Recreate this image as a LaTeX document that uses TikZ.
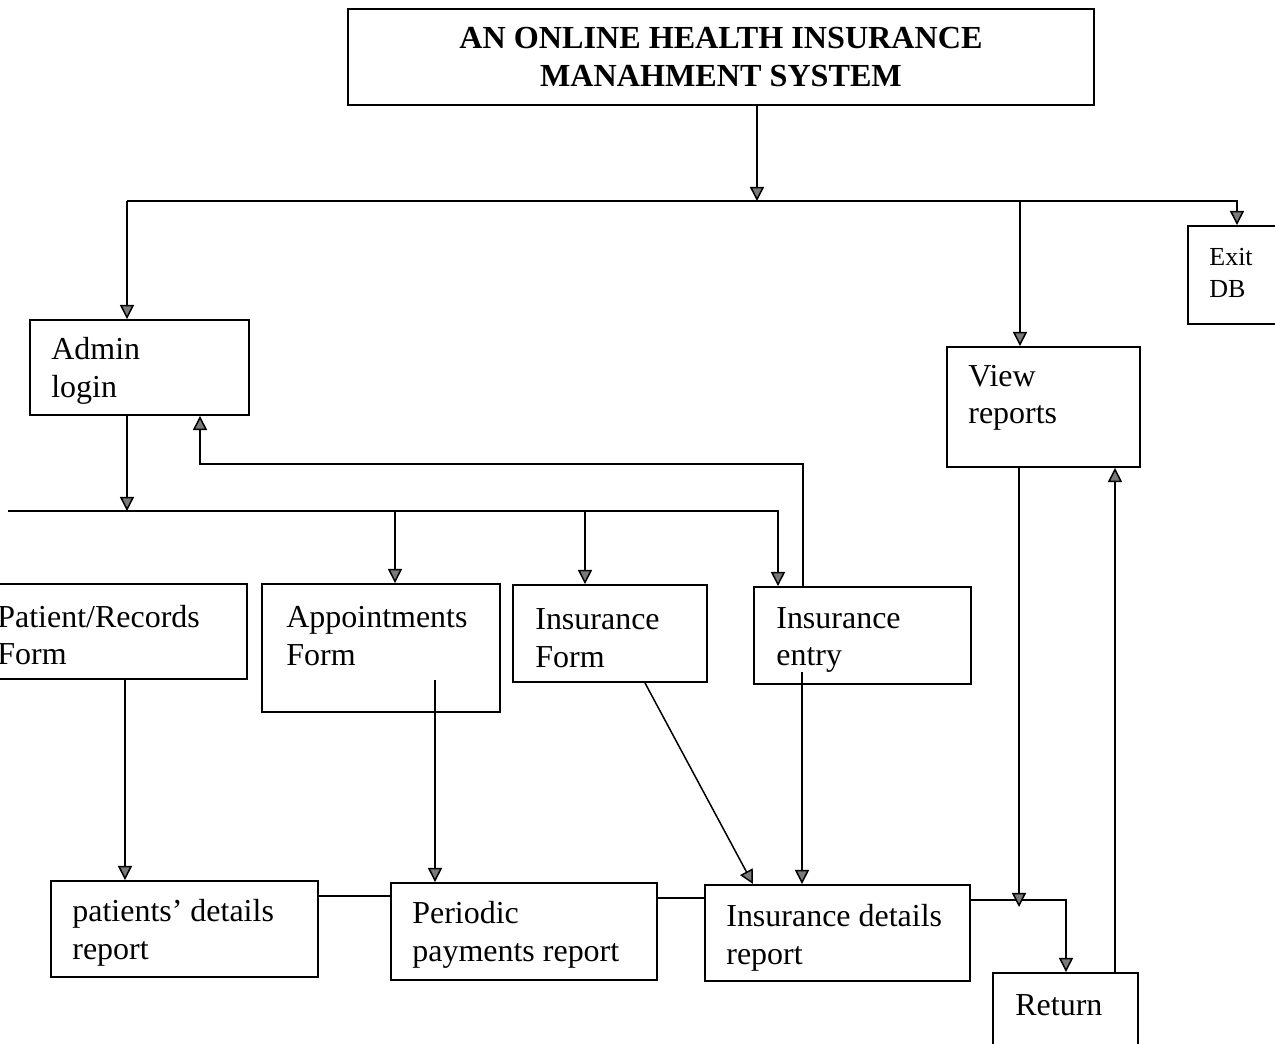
\documentclass[tikz,border=0pt]{standalone}
\usepackage{fontspec}
\setmainfont{Liberation Serif}
\usetikzlibrary{arrows.meta,fit}
\newcommand\mkbox[5]{\path (#2,#3) coordinate (#1-nw) (#4,#5) coordinate (#1-se);
  \node[box, fit=(#1-nw)(#1-se)] (#1) {};}
\begin{document}
\begin{tikzpicture}[x=0.02cm,y=-0.02cm,
  box/.style={draw, line width=1.1pt, inner sep=0pt},
  lbl/.style={anchor=west, align=left, inner sep=0pt, font=\fontsize{18.2}{21.3}\selectfont},
  conn/.style={line width=0.85pt},
  arr/.style={conn, -{Triangle[length=8pt,width=8pt,fill=gray!70!black!80]}}]
\useasboundingbox (0,0) rectangle (1275,1044);
\clip (0,0) rectangle (1275,1044);
\fill[white] (0,0) rectangle (1275,1044);

% boxes
\mkbox{title}{348}{9}{1094}{105}
\mkbox{admin}{30}{320}{249}{415}
\mkbox{view}{947}{347}{1140}{467}
\mkbox{exit}{1188}{226}{1295}{324}
\mkbox{patient}{-20}{584}{247}{679}
\mkbox{appt}{262}{584}{500}{712}
\mkbox{insf}{513}{585}{707}{682}
\mkbox{inse}{754}{587}{971}{684}
\mkbox{pdr}{51}{881}{318}{977}
\mkbox{ppr}{391}{883}{657}{980}
\mkbox{idr}{705}{885}{970}{981}
\mkbox{ret}{993}{973}{1138}{1070}

% texts
\node[font=\bfseries\fontsize{18.3}{21.3}\selectfont, align=center, inner sep=0pt] (title-t) at (title) {AN ONLINE HEALTH INSURANCE\\MANAHMENT SYSTEM};
\node[lbl] (admin-t) at (51,371) {Admin\\login};
\node[lbl] (view-t) at (968,398) {View\\reports};
\node[lbl, font=\fontsize{14.8}{18}\selectfont] (exit-t) at (1209,273) {Exit\\DB};
\node[lbl] (patient-t) at (-3,635) {Patient/Records\\Form};
\node[lbl] (appt-t) at (286,636) {Appointments\\Form};
\node[lbl] (insf-t) at (535,638) {Insurance\\Form};
\node[lbl] (inse-t) at (776,640) {Insurance\\entry};
\node[lbl] (pdr-t) at (72,933) {patients’ details\\report};
\node[lbl] (ppr-t) at (412,935) {Periodic\\payments report};
\node[lbl] (idr-t) at (726,938) {Insurance details\\report};
\node[lbl] (ret-t) at (1015,1005) {Return};

% coordinates
\coordinate (busT) at (757,201);
\coordinate (busTl) at (127,201);
\coordinate (busTr) at (1237,201);
\coordinate (busV) at (1020,201);
\coordinate (busMa) at (127,511);
\coordinate (busMl) at (8,511);
\coordinate (busMr) at (778,511);
\coordinate (busM1) at (395,511);
\coordinate (busM2) at (585,511);
\coordinate (fb1) at (803,464);
\coordinate (fb2) at (200,464);
\coordinate (apS) at (435,680);
\coordinate (ieS) at (802,672);
\coordinate (rj) at (1066,900);
\coordinate (vj) at (1019,907);

% connectors
\draw[arr] (title.south -| busT) -- (busT);
\draw[arr] (busTl) -- (busTr) -- (exit.north -| busTr);
\draw[arr] (busTl) -- (admin.north -| busTl);
\draw[arr] (busV) -- (view.north -| busV);
\draw[arr] (admin.south -| busMa) -- (busMa);
\draw[arr] (busMl) -- (busMr) -- (inse.north -| busMr);
\draw[arr] (busM1) -- (appt.north -| busM1);
\draw[arr] (busM2) -- (insf.north -| busM2);
\draw[arr] (inse.north -| fb1) -- (fb1) -- (fb2) -- (admin.south -| fb2);
\draw[arr] (patient.south -| 125,0) -- (pdr.north -| 125,0);
\draw[arr] (apS) -- (ppr.north -| apS);
\draw[arr] (insf.south -| 645,0) -- (idr.north -| 753,0);
\draw[arr] (ieS) -- (idr.north -| ieS);
\draw[conn] (pdr.east |- 0,896) -- (ppr.west |- 0,896);
\draw[conn] (ppr.east |- 0,898) -- (idr.west |- 0,898);
\draw[arr] (idr.east |- rj) -- (rj) -- (ret.north -| rj);
\draw[arr] (view.south -| vj) -- (vj);
\draw[arr] (ret.north -| 1115,0) -- (view.south -| 1115,0);
\end{tikzpicture}
\end{document}
